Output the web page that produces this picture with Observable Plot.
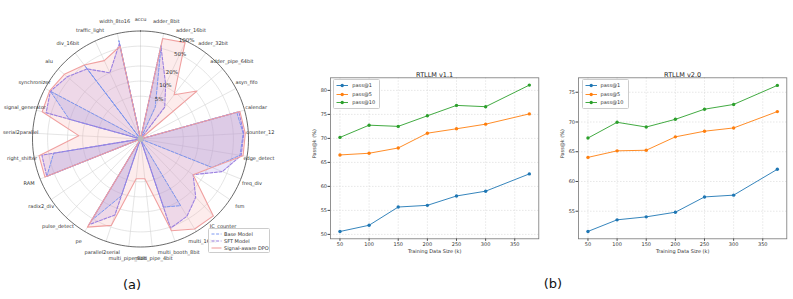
<!DOCTYPE html>
<html><head><meta charset="utf-8">
<script src="https://cdn.jsdelivr.net/npm/d3@7"></script>
<script src="https://cdn.jsdelivr.net/npm/@observablehq/plot@0.6"></script>
<style>
body{margin:0;background:#fff;font-family:"DejaVu Sans",sans-serif;}
#fig{position:relative;width:793px;height:299px;overflow:hidden;background:#fff;}
.abs{position:absolute;}
.cap{position:absolute;font-size:13px;color:#111;font-family:"DejaVu Sans",sans-serif;transform:translate(-50%,-50%);}
.leg{position:absolute;background:rgba(255,255,255,0.85);border:0.6px solid #ccc;border-radius:1.5px;font-size:5px;color:#333;}
</style></head><body><div id="fig"></div>
<script>
// ---------- Radar data (pass rate, %) ----------
const categories = ["accu","adder_8bit","adder_16bit","adder_32bit","adder_pipe_64bit","asyn_fifo","calendar","counter_12","edge_detect","freq_div","fsm","JC_counter","multi_16bit","multi_booth_8bit","multi_pipe_4bit","multi_pipe_8bit","parallel2serial","pe","pulse_detect","radix2_div","RAM","right_shifter","serial2parallel","signal_generator","synchronizer","alu","div_16bit","traffic_light","width_8to16"];
const baseModel = [0,58,3.5,0,0,0,69,79,72,24,0,0,25,19,0,0,11,55,0,0,72,40,0,21,76,0,50,0,72];
const sftModel  = [0,55,11,4.4,0,0,76,81,76,40,13,28,44,53,0,0,28,69,0,0,72,69,0,63,76,58,40,20,63];
const dpoModel  = [0,79,92,9,21,0,80,87,83,24,13,91,87,60,4.4,4.4,46,79,0,0,79,79,12,76,79,69,50,37,55];
const ringTicks = [5,10,20,50,100];
const ringLabels = ["5%","10%","20%","50%","100%"];
const seriesNames = ["Base Model","SFT Model","Signal-aware DPO"];

// ---------- Line chart data ----------
const trainSizes = [50,100,150,200,250,300,375];
const xTicks = [50,100,150,200,250,300,350];
const v11Pass1  = [50.6,51.9,55.7,56.05,58.0,59.0,62.6];
const v11Pass5  = [66.55,66.9,68.0,71.08,72.0,72.96,75.1];
const v11Pass10 = [70.2,72.75,72.5,74.7,76.87,76.6,81.1];
const v20Pass1  = [51.6,53.55,54.05,54.83,57.4,57.7,62.05];
const v20Pass5  = [64.05,65.15,65.25,67.5,68.45,69.0,71.75];
const v20Pass10 = [67.3,69.95,69.15,70.45,72.15,72.95,76.15];
const v11YTicks = [50,55,60,65,70,75,80];
const v20YTicks = [55,60,65,70,75];
const passNames = ["pass@1","pass@5","pass@10"];
const passColors = ["#1f77b4","#ff7f0e","#2ca02c"];

const fig = document.getElementById("fig");

// ---------- Radar ----------
const R = 108;
const rScale = d3.scaleLog().domain([0.7,100]).range([0,R]).clamp(true);
const rad = v => v <= 0.7 ? 0 : rScale(v);
const n = categories.length;
const ang = i => i*2*Math.PI/n;
const styles = {
  "Base Model": {stroke:"#6f8ff0", fill:"#7f9cf5", fo:0.22, dash:"3,1.6", sw:0.9},
  "SFT Model": {stroke:"#9a7fe0", fill:"#a88be6", fo:0.22, dash:"3,1.6", sw:1.1},
  "Signal-aware DPO": {stroke:"#f0a0a0", fill:"#f4aaaa", fo:0.22, dash:null, sw:1.1}
};
const radarRows = [];
[baseModel, sftModel, dpoModel].forEach((arr, s) => arr.forEach((v,i) => radarRows.push({series: seriesNames[s], cat: categories[i], v, x: rad(v)*Math.sin(ang(i)), y: rad(v)*Math.cos(ang(i))})));
const ringRows = [];
ringTicks.forEach(t => { for (let k=0;k<=180;k++){ const a=k/180*2*Math.PI; ringRows.push({t, x: rad(t)*Math.sin(a), y: rad(t)*Math.cos(a)}); } });
const spokes = categories.map((c,i)=>({c, x2: R*Math.sin(ang(i)), y2: R*Math.cos(ang(i))}));
const labelRows = categories.map((c,i)=>({c, x:(R+12)*Math.sin(ang(i)), y:(R+12)*Math.cos(ang(i))}));
const ringLabelRows = ringTicks.map((t,k)=>({t:ringLabels[k], x:(rad(t)+1)*Math.sin(25*Math.PI/180), y:(rad(t)+1)*Math.cos(25*Math.PI/180)}));

const radarMarks = [
  Plot.line(ringRows.filter(d=>d.t<100), {x:"x", y:"y", z:"t", stroke:"#d4d4d4", strokeWidth:0.6, curve:"linear-closed"}),
  Plot.link(spokes, {x1:0, y1:0, x2:"x2", y2:"y2", stroke:"#d4d4d4", strokeWidth:0.6}),
  Plot.line(ringRows.filter(d=>d.t===100), {x:"x", y:"y", stroke:"#444", strokeWidth:0.8, curve:"linear-closed"})
];
seriesNames.forEach(s => {
  const st = styles[s];
  radarMarks.push(Plot.line(radarRows.filter(d=>d.series===s), {x:"x", y:"y", curve:"linear-closed", fill:st.fill, fillOpacity:st.fo, stroke:"none"}));
});
seriesNames.forEach(s => {
  const st = styles[s];
  radarMarks.push(Plot.line(radarRows.filter(d=>d.series===s), {x:"x", y:"y", curve:"linear-closed", stroke:st.stroke, strokeWidth:st.sw, strokeDasharray:st.dash, fill:"none"}));
});
radarMarks.push(Plot.dot([{x:0,y:0}], {x:"x", y:"y", r:3, fill:"#bbb"}));
radarMarks.push(Plot.text(labelRows, {x:"x", y:"y", text:"c", fontSize:5, fill:"#333"}));
radarMarks.push(Plot.text(ringLabelRows, {x:"x", y:"y", text:"t", fontSize:5.5, fill:"#333"}));

const radar = Plot.plot({
  width: 290, height: 285, margin: 0,
  x: {domain: [-140, 150], axis: null},
  y: {domain: [-146.5, 138.5], axis: null},
  style: {background: "transparent", fontFamily: "DejaVu Sans"},
  marks: radarMarks
});
radar.classList.add("abs"); radar.style.left = "0px"; radar.style.top = "0px";
fig.appendChild(radar);

// radar legend
const rl = document.createElement("div");
rl.className = "leg";
rl.style.left = "208px"; rl.style.top = "228px"; rl.style.width = "60px"; rl.style.height = "23px";
rl.innerHTML = seriesNames.map((s,k)=>{
  const st = styles[s];
  return `<div style="position:absolute;left:2px;top:${1.6+k*7}px;height:6px;width:58px;">
  <svg width="11" height="6" style="position:absolute;left:0;top:0"><line x1="0.5" y1="3" x2="10.5" y2="3" stroke="${st.stroke}" stroke-width="${st.sw}" ${st.dash?`stroke-dasharray="${st.dash}"`:""}/></svg>
  <span style="position:absolute;left:13px;top:0px;line-height:6px;white-space:nowrap">${s}</span></div>`;
}).join("");
fig.appendChild(rl);

// ---------- Line charts ----------
function lineChart(title, p1, p5, p10, yDomain, yTicks, left) {
  const rows = [];
  [p1,p5,p10].forEach((arr,s)=>arr.forEach((v,i)=>rows.push({series: passNames[s], x: trainSizes[i], y: v})));
  const chart = Plot.plot({
    width: 245, height: 200,
    marginLeft: 30, marginRight: 6.7, marginTop: 17.3, marginBottom: 21.7,
    style: {background:"transparent", fontFamily:"DejaVu Sans", color:"#333"},
    x: {domain: [33.75, 391.25]},
    y: {domain: yDomain},
    color: {domain: passNames, range: passColors},
    marks: [
      Plot.gridX(xTicks, {stroke:"#cfcfcf", strokeOpacity:1, strokeWidth:0.5, strokeDasharray:"1.5,1.5"}),
      Plot.gridY(yTicks, {stroke:"#cfcfcf", strokeOpacity:1, strokeWidth:0.5, strokeDasharray:"1.5,1.5"}),
      Plot.axisX(xTicks, {tickSize:2.5, tickPadding:1.2, fontSize:5, label:null, stroke:"#444"}),
      Plot.axisY(yTicks, {tickSize:2.5, tickPadding:1, fontSize:5, label:null, stroke:"#444"}),
      Plot.frame({stroke:"#777", strokeWidth:0.8}),
      Plot.line(rows, {x:"x", y:"y", z:"series", stroke:"series", strokeWidth:0.9}),
      Plot.dot(rows, {x:"x", y:"y", fill:"series", r:1.7}),
      Plot.text([title], {frameAnchor:"top", dy:-5, fontSize:6.5, fill:"#222"}),
      Plot.text(["Training Data Size (k)"], {frameAnchor:"bottom", dy:14.4, fontSize:5, fill:"#333"}),
      Plot.text(["Pass@k (%)"], {frameAnchor:"left", dx:-16, rotate:-90, fontSize:5, fill:"#333"})
    ]
  });
  chart.classList.add("abs"); chart.style.left = left+"px"; chart.style.top = "60px";
  fig.appendChild(chart);
  const lg = document.createElement("div");
  lg.className = "leg";
  lg.style.left = (left+33.3)+"px"; lg.style.top = "79.3px"; lg.style.width = "45px"; lg.style.height = "27.4px";
  lg.innerHTML = passNames.map((p,k)=>`<div style="position:absolute;left:2px;top:${2+k*8.5}px;height:7px;width:42px;">
   <svg width="13" height="7" style="position:absolute;left:0;top:0"><line x1="0.5" y1="3.5" x2="12" y2="3.5" stroke="${passColors[k]}" stroke-width="0.9"/><circle cx="6.2" cy="3.5" r="1.7" fill="${passColors[k]}"/></svg>
   <span style="position:absolute;left:16px;top:0;line-height:7px;white-space:nowrap;font-size:5px">${p}</span></div>`).join("");
  fig.appendChild(lg);
}
lineChart("RTLLM v1.1", v11Pass1, v11Pass5, v11Pass10, [49.08, 82.62], v11YTicks, 300);
lineChart("RTLLM v2.0", v20Pass1, v20Pass5, v20Pass10, [50.36, 77.43], v20YTicks, 548.3);

// captions
const ca = document.createElement("div"); ca.className="cap"; ca.textContent="(a)"; ca.style.left="132px"; ca.style.top="284px"; fig.appendChild(ca);
const cb = document.createElement("div"); cb.className="cap"; cb.textContent="(b)"; cb.style.left="553px"; cb.style.top="283px"; fig.appendChild(cb);
</script></body></html>
